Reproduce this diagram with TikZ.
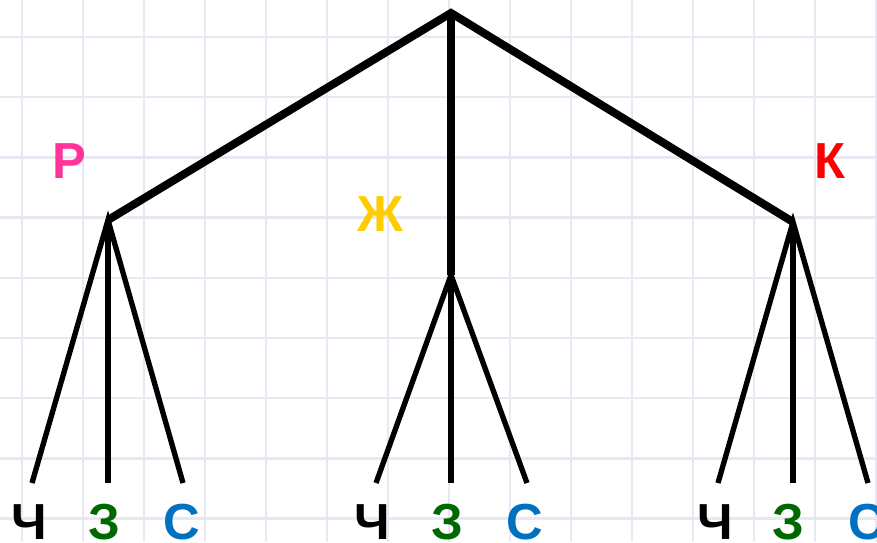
\documentclass[tikz,border=0pt]{standalone}
\usepackage{fontspec}
\setmainfont{Liberation Sans}
\usetikzlibrary{positioning}

\definecolor{gridlilac}{RGB}{232,232,242}
\definecolor{pinkR}{RGB}{255,51,153}
\definecolor{goldZh}{RGB}{255,204,0}
\definecolor{redK}{RGB}{255,0,0}
\definecolor{greenZ}{RGB}{0,104,0}
\definecolor{blueS}{RGB}{0,112,192}

\begin{document}
\begin{tikzpicture}[x=0.75pt, y=-0.75pt,
    gridline/.style={draw=gridlilac, line width=1.8pt},
    trunk/.style={line width=6pt},
    twig/.style={line width=4pt},
    letter/.style={anchor=base, inner sep=0pt, font=\fontsize{38}{38}\selectfont\bfseries}
]
\useasboundingbox (0,0) rectangle (877,542);
\fill[white] (0,0) rectangle (877,542);

% squared paper
\foreach \gx in {0,...,14} \draw[gridline] (22+61*\gx,0) -- (22+61*\gx,542);
\foreach \gy in {0,...,8} \draw[gridline] (0,37+60.2*\gy) -- (877,37+60.2*\gy);

% branch points
\coordinate (top) at (451,13);
\coordinate (r) at (108,220);
\coordinate (zh) at (451,275);
\coordinate (k) at (793,222);

% leaf ends
\coordinate (r-ch) at (32,483);
\coordinate (r-z) at (108,483);
\coordinate (r-s) at (183,483);
\coordinate (zh-ch) at (376,483);
\coordinate (zh-z) at (451,483);
\coordinate (zh-s) at (527,483);
\coordinate (k-ch) at (718,483);
\coordinate (k-z) at (793,483);
\coordinate (k-s) at (868,483);

\draw[trunk] (r) -- (top) -- (k);
\draw[trunk] (top) -- (zh);

\draw[twig] (r-ch) -- (r) -- (r-s);
\draw[twig] (r) -- (r-z);
\draw[twig] (zh-ch) -- (zh) -- (zh-s);
\draw[twig] (zh) -- (zh-z);
\draw[twig] (k-ch) -- (k) -- (k-s);
\draw[twig] (k) -- (k-z);

% labels
\node[letter, text=pinkR] (lblR) at (69,178) {Р};
\node[letter, text=goldZh] (lblZh) at (380,231) {Ж};
\node[letter, text=redK] (lblK) at (830,178) {К};

\node[letter] (r-chl) at (29,539) {Ч};
\node[letter, text=greenZ] (r-zl) at (104,539) {З};
\node[letter, text=blueS] (r-sl) at (182,539) {С};
\node[letter] (zh-chl) at (372,539) {Ч};
\node[letter, text=greenZ] (zh-zl) at (447,539) {З};
\node[letter, text=blueS] (zh-sl) at (525,539) {С};
\node[letter] (k-chl) at (715,539) {Ч};
\node[letter, text=greenZ] (k-zl) at (788,539) {З};
\node[letter, text=blueS] (k-sl) at (867,539) {С};
\end{tikzpicture}
\end{document}
